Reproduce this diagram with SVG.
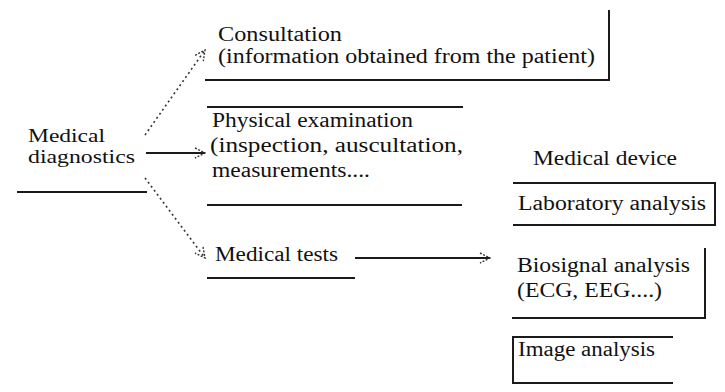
<svg xmlns="http://www.w3.org/2000/svg" width="725" height="392" viewBox="0 0 725 392">
<defs>
<style>
text{font-family:"Times New Roman","Liberation Serif",Tinos,"Noto Serif","DejaVu Serif",Times,serif;font-size:20px;fill:#111}
.ln{stroke:#1a1a1a;stroke-width:2;fill:none}
.dot{stroke:#333;stroke-width:1.6;stroke-dasharray:2 3;fill:none}
.sol{stroke:#1a1a1a;stroke-width:2;fill:none}
</style>
<marker id="ah" viewBox="0 0 12 12" refX="11" refY="6" markerWidth="12" markerHeight="12" markerUnits="userSpaceOnUse" orient="auto">
<path d="M1,1 L11,6 L1,11" fill="none" stroke="#333" stroke-width="1.4" stroke-dasharray="2 1.5"/>
</marker>
</defs>
<rect width="725" height="392" fill="#fff"/>
<g id="medical-diagnostics">
<text x="28" y="142" textLength="77" lengthAdjust="spacingAndGlyphs" style="font-size:18px">Medical</text>
<text x="28" y="163" textLength="107" lengthAdjust="spacingAndGlyphs" style="font-size:18px">diagnostics</text>
<line class="ln" x1="17" y1="192" x2="147" y2="192"/>
</g>
<g id="consultation">
<text x="218" y="41" textLength="124" lengthAdjust="spacingAndGlyphs">Consultation</text>
<text x="218" y="63" textLength="377" lengthAdjust="spacingAndGlyphs">(information obtained from the patient)</text>
<line class="ln" x1="205" y1="80" x2="609" y2="80"/>
<line class="ln" x1="609" y1="10" x2="609" y2="81"/>
</g>
<g id="physical-examination">
<line class="ln" x1="207" y1="107" x2="463" y2="107"/>
<text x="212" y="127" textLength="201" lengthAdjust="spacingAndGlyphs">Physical examination</text>
<text x="210" y="152" textLength="253" lengthAdjust="spacingAndGlyphs">(inspection, auscultation,</text>
<text x="212" y="177" textLength="158" lengthAdjust="spacingAndGlyphs">measurements....</text>
<line class="ln" x1="207" y1="205" x2="462" y2="205"/>
</g>
<g id="medical-tests">
<text x="215" y="261" textLength="123" lengthAdjust="spacingAndGlyphs">Medical tests</text>
<line class="ln" x1="207" y1="278" x2="355" y2="278"/>
</g>
<g id="medical-device">
<text x="533" y="165" textLength="144" lengthAdjust="spacingAndGlyphs">Medical device</text>
</g>
<g id="laboratory-analysis">
<polyline class="ln" points="513,183 715,183 715,225 513,225"/>
<text x="518" y="210" textLength="188" lengthAdjust="spacingAndGlyphs">Laboratory analysis</text>
</g>
<g id="biosignal-analysis">
<polyline class="ln" points="705,248 705,318 512,318"/>
<text x="517" y="272" textLength="173" lengthAdjust="spacingAndGlyphs">Biosignal analysis</text>
<text x="517" y="297" textLength="145" lengthAdjust="spacingAndGlyphs">(ECG, EEG....)</text>
</g>
<g id="image-analysis">
<polyline class="ln" points="673,337 513,337 513,383 673,383"/>
<text x="518" y="356" textLength="137" lengthAdjust="spacingAndGlyphs">Image analysis</text>
</g>
<g id="connectors">
<line class="dot" x1="145" y1="135" x2="205" y2="50" marker-end="url(#ah)"/>
<line class="sol" x1="146" y1="153" x2="205" y2="153" marker-end="url(#ah)"/>
<line class="dot" x1="145" y1="178" x2="205" y2="258" marker-end="url(#ah)"/>
<line class="sol" x1="355" y1="258" x2="490" y2="258" marker-end="url(#ah)"/>
</g>
</svg>
